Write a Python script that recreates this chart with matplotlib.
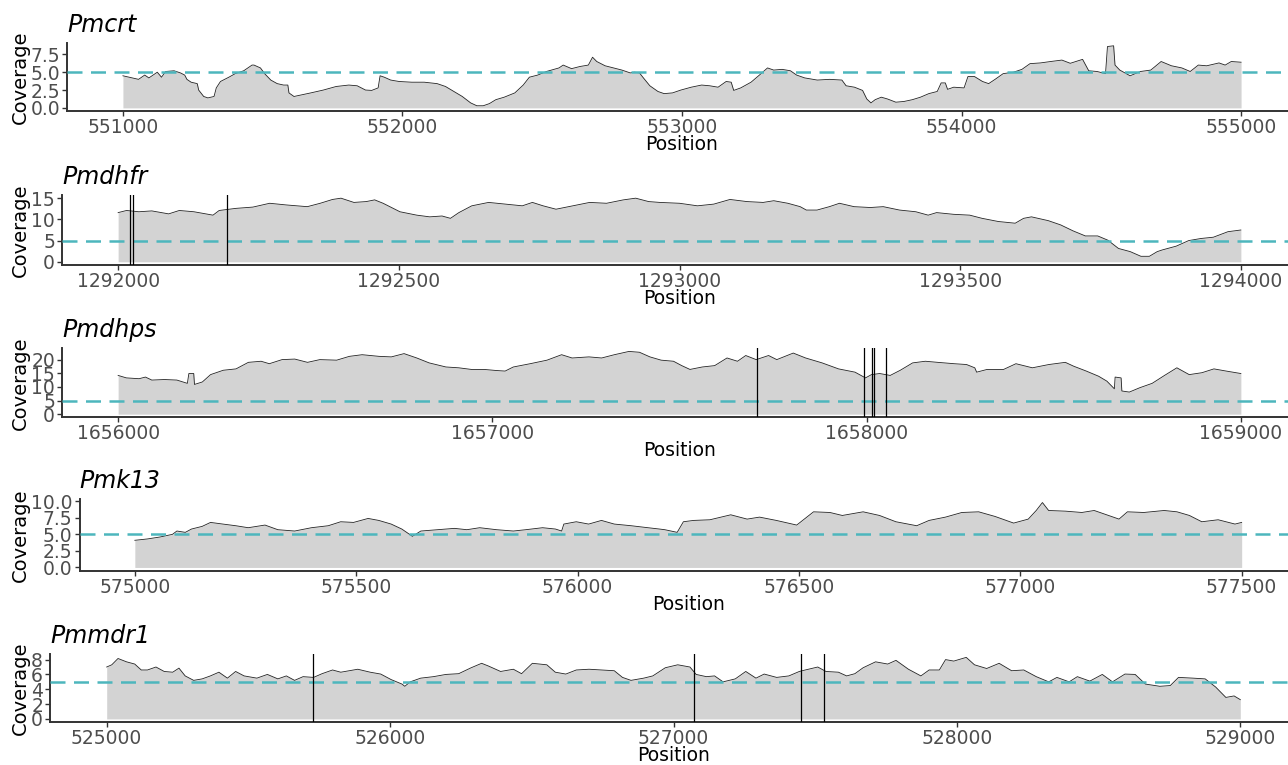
import matplotlib
matplotlib.use("Agg")
import matplotlib.pyplot as plt
import numpy as np

genes = ["Pmcrt", "Pmdhfr", "Pmdhps", "Pmk13", "Pmmdr1"]
min_depth = 5

# --- Pmcrt ---
crt_pos = [551000, 551056, 551078, 551093, 551123, 551138, 551153, 551183, 551206, 551221,
           551229, 551244, 551266, 551271, 551289, 551304, 551326, 551334, 551349, 551379,
           551402, 551432, 551462, 551469, 551492, 551507, 551529, 551552, 551575, 551590,
           551594, 551612, 551642, 551672, 551717, 551763, 551808, 551838, 551868, 551890,
           551913, 551920, 551935, 551958, 551988, 552033, 552078, 552124, 552154, 552184,
           552214, 552244, 552266, 552289, 552311, 552334, 552364, 552402, 552432, 552454,
           552484, 552515, 552560, 552575, 552605, 552635, 552665, 552680, 552695, 552725,
           552755, 552785, 552815, 552830, 552848, 552862, 552885, 552914, 552936, 552966,
           552996, 553033, 553070, 553099, 553129, 553158, 553176, 553185, 553210, 553247,
           553277, 553306, 553328, 553358, 553388, 553410, 553439, 553484, 553528, 553572,
           553587, 553617, 553646, 553661, 553676, 553691, 553713, 553735, 553765, 553794,
           553824, 553853, 553883, 553913, 553927, 553942, 553950, 553972, 554009, 554023,
           554046, 554075, 554097, 554120, 554149, 554186, 554216, 554245, 554282, 554319,
           554359, 554389, 554433, 554455, 554485, 554515, 554522, 554544, 554549, 554566,
           554603, 554640, 554677, 554714, 554751, 554788, 554818, 554847, 554877, 554921,
           554943, 554965, 555000]
crt_cov = [4.5, 4.0, 4.6, 4.2, 5.0, 4.3, 5.1, 5.2, 4.9, 4.6,
           4.0, 3.6, 3.4, 2.5, 1.6, 1.4, 1.6, 2.8, 3.7, 4.3,
           4.8, 5.2, 6.0, 6.0, 5.6, 4.8, 3.9, 3.4, 3.2, 3.2,
           2.1, 1.6, 1.85, 2.1, 2.5, 3.0, 3.2, 3.1, 2.5, 2.45,
           2.8, 4.5, 4.3, 3.9, 3.7, 3.6, 3.6, 3.4, 3.0, 2.3,
           1.6, 0.7, 0.3, 0.3, 0.6, 1.15, 1.5, 2.1, 3.2, 4.3,
           4.6, 5.1, 5.6, 6.0, 5.5, 5.8, 6.0, 7.1, 6.5, 5.9,
           5.6, 5.3, 4.9, 5.0, 4.9, 4.2, 3.1, 2.3, 2.0, 2.1,
           2.5, 2.9, 3.2, 3.1, 2.9, 3.7, 3.6, 2.45, 2.8, 3.6,
           4.6, 5.6, 5.3, 5.4, 5.2, 4.6, 4.2, 3.9, 4.0, 3.9,
           3.1, 2.9, 2.45, 1.25, 0.7, 1.15, 1.5, 1.25, 0.8, 0.9,
           1.15, 1.5, 2.0, 2.3, 3.5, 3.5, 2.6, 2.9, 2.8, 4.4,
           4.4, 3.7, 3.4, 4.0, 4.8, 5.0, 5.4, 6.2, 6.3, 6.5,
           6.7, 6.25, 6.8, 5.2, 5.1, 4.8, 8.6, 8.7, 6.0, 5.3,
           4.5, 5.1, 5.3, 6.5, 5.9, 5.6, 5.1, 6.0, 5.9, 6.3,
           6.0, 6.5, 6.4]
crt_snps = []

# --- Pmdhfr ---
dhfr_pos = [1292000, 1292015, 1292037, 1292060, 1292090, 1292109, 1292135, 1292169, 1292180, 1292210,
            1292240, 1292270, 1292300, 1292337, 1292360, 1292382, 1292397, 1292420, 1292442, 1292457,
            1292472, 1292502, 1292532, 1292555, 1292577, 1292592, 1292607, 1292630, 1292660, 1292690,
            1292720, 1292738, 1292757, 1292780, 1292810, 1292840, 1292870, 1292900, 1292922, 1292945,
            1292965, 1293000, 1293032, 1293061, 1293090, 1293120, 1293149, 1293168, 1293193, 1293215,
            1293226, 1293245, 1293267, 1293285, 1293311, 1293340, 1293363, 1293392, 1293421, 1293443,
            1293458, 1293488, 1293517, 1293539, 1293568, 1293598, 1293613, 1293627, 1293657, 1293679,
            1293701, 1293723, 1293745, 1293763, 1293782, 1293803, 1293822, 1293837, 1293851, 1293860,
            1293885, 1293907, 1293929, 1293951, 1293977, 1294000]
dhfr_cov = [11.6, 12.1, 11.8, 12.0, 11.3, 12.1, 11.8, 11.0, 12.1, 12.6,
            12.9, 13.8, 13.4, 13.0, 13.8, 14.7, 15.0, 14.0, 14.2, 14.6,
            13.8, 11.8, 11.0, 10.6, 10.8, 10.25, 11.6, 13.2, 14.0, 13.6,
            13.2, 14.0, 13.2, 12.4, 13.2, 14.0, 13.8, 14.6, 15.0, 14.2,
            14.0, 13.8, 13.2, 13.6, 14.7, 14.2, 14.0, 14.4, 13.8, 13.0,
            12.2, 12.2, 13.0, 13.8, 13.0, 12.8, 13.0, 12.2, 11.8, 11.0,
            11.6, 11.2, 11.0, 10.25, 9.5, 9.1, 10.25, 10.6, 9.7, 8.7,
            7.3, 6.1, 6.1, 5.1, 3.15, 2.4, 1.3, 1.3, 2.4, 2.8,
            3.7, 5.0, 5.5, 5.8, 7.1, 7.5]
dhfr_snps = [1292021, 1292027, 1292194]

# --- Pmdhps ---
dhps_pos = [1656000, 1656022, 1656056, 1656073, 1656090, 1656124, 1656157, 1656185, 1656189, 1656202,
            1656204, 1656225, 1656247, 1656281, 1656315, 1656348, 1656382, 1656404, 1656438, 1656472,
            1656506, 1656539, 1656584, 1656618, 1656652, 1656697, 1656730, 1656764, 1656798, 1656831,
            1656876, 1656910, 1656944, 1656978, 1657011, 1657034, 1657056, 1657101, 1657146, 1657185,
            1657213, 1657258, 1657292, 1657326, 1657365, 1657393, 1657421, 1657451, 1657484, 1657506,
            1657528, 1657561, 1657594, 1657627, 1657655, 1657677, 1657705, 1657738, 1657760, 1657804,
            1657837, 1657881, 1657925, 1657969, 1657997, 1658013, 1658035, 1658063, 1658090, 1658123,
            1658157, 1658190, 1658234, 1658267, 1658289, 1658294, 1658322, 1658366, 1658399, 1658443,
            1658487, 1658531, 1658553, 1658587, 1658620, 1658642, 1658662, 1658664, 1658680, 1658682,
            1658702, 1658730, 1658763, 1658796, 1658829, 1658862, 1658896, 1658928, 1658961, 1659000]
dhps_cov = [14.2, 13.3, 13.0, 13.6, 12.5, 12.7, 12.5, 11.3, 14.9, 14.9,
            10.9, 11.8, 14.5, 16.1, 16.6, 19.0, 19.4, 18.5, 20.0, 20.2,
            19.0, 20.0, 19.8, 21.2, 21.8, 21.2, 21.0, 22.2, 20.6, 18.8,
            17.3, 17.0, 16.4, 16.4, 16.0, 15.8, 17.3, 18.5, 19.8, 21.8,
            20.6, 21.0, 20.6, 21.8, 23.0, 22.7, 21.0, 19.8, 19.4, 17.8,
            16.4, 17.3, 17.8, 20.6, 19.4, 21.5, 20.0, 21.5, 20.0, 22.4,
            20.6, 18.8, 16.6, 15.4, 13.3, 14.5, 14.9, 14.2, 16.1, 18.8,
            19.4, 19.0, 18.5, 18.2, 17.0, 15.4, 16.4, 16.4, 18.5, 17.0,
            18.2, 19.0, 17.6, 15.8, 13.9, 12.1, 9.3, 13.6, 13.3, 8.5,
            8.1, 9.7, 11.3, 14.2, 17.0, 14.5, 15.2, 16.6, 15.8, 14.9]
dhps_snps = [1657706, 1657994, 1658014, 1658020, 1658051]

# --- Pmk13 ---
k13_pos = [575000, 575028, 575057, 575085, 575095, 575114, 575128, 575152, 575171, 575199,
           575228, 575256, 575294, 575323, 575361, 575399, 575437, 575465, 575494, 575527,
           575551, 575579, 575603, 575627, 575646, 575684, 575722, 575750, 575779, 575817,
           575855, 575883, 575921, 575950, 575964, 575969, 575997, 576025, 576054, 576083,
           576121, 576159, 576185, 576197, 576225, 576239, 576262, 576299, 576346, 576383,
           576411, 576449, 576495, 576533, 576570, 576598, 576645, 576682, 576719, 576766,
           576794, 576831, 576868, 576906, 576943, 576985, 577018, 577036, 577050, 577064,
           577102, 577139, 577167, 577223, 577242, 577279, 577325, 577354, 577382, 577410,
           577447, 577485, 577500]
k13_cov = [4.1, 4.3, 4.6, 5.0, 5.5, 5.3, 5.8, 6.2, 6.8, 6.55,
           6.3, 6.0, 6.4, 5.7, 5.5, 6.0, 6.3, 6.9, 6.8, 7.4,
           7.1, 6.55, 5.8, 4.7, 5.5, 5.7, 5.9, 5.7, 6.0, 5.7,
           5.5, 5.7, 6.0, 5.8, 5.5, 6.55, 6.9, 6.55, 7.1, 6.55,
           6.3, 6.0, 5.8, 5.7, 5.3, 6.9, 7.1, 7.2, 7.95, 7.3,
           7.6, 7.1, 6.4, 8.4, 8.3, 7.85, 8.4, 7.85, 6.9, 6.3,
           7.1, 7.6, 8.3, 8.4, 7.7, 6.7, 7.3, 8.6, 9.8, 8.6,
           8.5, 8.3, 8.6, 7.3, 8.4, 8.3, 8.6, 8.4, 7.85, 6.9,
           7.2, 6.55, 6.8]
k13_snps = []

# --- Pmmdr1 ---
mdr1_pos = [525000, 525018, 525040, 525070, 525099, 525122, 525144, 525174, 525203, 525233,
            525255, 525277, 525307, 525337, 525366, 525396, 525426, 525455, 525485, 525530,
            525567, 525604, 525634, 525663, 525693, 525730, 525760, 525797, 525826, 525886,
            525930, 525967, 526004, 526042, 526052, 526071, 526108, 526153, 526197, 526242,
            526286, 526323, 526346, 526390, 526435, 526464, 526502, 526553, 526583, 526620,
            526657, 526702, 526746, 526791, 526820, 526850, 526895, 526927, 526971, 527015,
            527058, 527080, 527116, 527145, 527175, 527218, 527255, 527291, 527320, 527364,
            527407, 527444, 527465, 527509, 527538, 527582, 527611, 527640, 527669, 527713,
            527756, 527785, 527829, 527873, 527902, 527938, 527960, 527989, 528033, 528062,
            528105, 528149, 528193, 528236, 528280, 528324, 528353, 528396, 528425, 528469,
            528513, 528549, 528593, 528629, 528665, 528716, 528753, 528782, 528833, 528876,
            528913, 528949, 528978, 529000]
mdr1_cov = [7.0, 7.3, 8.15, 7.7, 7.4, 6.6, 6.6, 7.0, 6.4, 6.3,
            6.85, 5.8, 5.2, 5.4, 5.8, 6.3, 5.5, 6.4, 5.8, 5.5,
            6.0, 5.4, 5.8, 5.2, 5.7, 5.6, 6.1, 6.6, 6.3, 6.7,
            6.3, 6.05, 5.3, 4.7, 4.4, 5.0, 5.5, 5.7, 6.0, 6.1,
            6.9, 7.5, 7.15, 6.4, 6.7, 6.1, 7.5, 7.3, 6.3, 6.05,
            6.6, 6.7, 6.6, 6.5, 5.6, 5.2, 5.5, 5.8, 6.9, 7.3,
            7.0, 6.0, 5.7, 5.8, 5.0, 5.4, 6.4, 5.5, 6.05, 5.6,
            5.8, 6.4, 6.6, 7.0, 6.4, 6.3, 5.8, 6.1, 6.9, 7.7,
            7.4, 7.9, 6.7, 5.8, 6.6, 6.6, 8.0, 7.8, 8.3, 7.3,
            6.8, 7.5, 6.5, 6.6, 5.7, 5.0, 5.6, 5.0, 5.7, 5.1,
            6.0, 5.0, 6.05, 6.0, 4.7, 4.4, 4.5, 5.6, 5.5, 5.4,
            4.3, 2.9, 3.1, 2.6]
mdr1_snps = [525727, 527074, 527451, 527531]

x_steps = [1000, 500, 1000, 500, 1000]
y_ticks = [[0, 2.5, 5, 7.5], [0, 5, 10, 15], [0, 5, 10, 15, 20],
           [0, 2.5, 5, 7.5, 10], [0, 2, 4, 6, 8]]

positions = [crt_pos, dhfr_pos, dhps_pos, k13_pos, mdr1_pos]
coverages = [crt_cov, dhfr_cov, dhps_cov, k13_cov, mdr1_cov]
snps = [crt_snps, dhfr_snps, dhps_snps, k13_snps, mdr1_snps]

# panel boxes in pixels: (left, top, bottom); all panels share the right edge
W, H = 1288, 765
RIGHT = 1297
boxes = [(67, 42.7, 111), (62, 195, 265), (62, 348.3, 417.3),
         (79.5, 499.3, 570.7), (50, 654.3, 722)]

plt.rcParams["font.family"] = ["DejaVu Sans"]
fig = plt.figure(figsize=(W / 100, H / 100), dpi=100)

for i, gene in enumerate(genes):
    left, top, bottom = boxes[i]
    ax = fig.add_axes([left / W, 1 - bottom / H, (RIGHT - left) / W, (bottom - top) / H])
    pos = np.array(positions[i])
    cov = np.array(coverages[i])

    ax.fill_between(pos, 0, cov, color="#D3D3D3", lw=0, zorder=1)
    ax.plot(pos, cov, color="#222222", lw=0.6, zorder=2)
    ax.axhline(min_depth, color="#4DB6BD", lw=1.8, ls=(0, (6, 3.4)), zorder=3)
    for s in snps[i]:
        ax.axvline(s, color="black", lw=0.9, zorder=4)

    # ggplot-style 5% expansion
    span = pos[-1] - pos[0]
    ax.set_xlim(pos[0] - 0.05 * span, pos[-1] + 0.05 * span)
    ymax = cov.max()
    ax.set_ylim(-0.05 * ymax, 1.05 * ymax)

    ax.set_xticks(np.arange(pos[0], pos[-1] + 1, x_steps[i]))
    ax.set_xticklabels([str(int(v)) for v in ax.get_xticks()])
    yt = y_ticks[i]
    ax.set_yticks(yt)
    if any(v != int(v) for v in yt):
        ax.set_yticklabels([f"{v:.1f}" for v in yt])
    else:
        ax.set_yticklabels([str(int(v)) for v in yt])

    for side in ["top", "right"]:
        ax.spines[side].set_visible(False)
    for side in ["left", "bottom"]:
        ax.spines[side].set_color("#333333")
        ax.spines[side].set_linewidth(1.4)
    ax.tick_params(length=3.5, width=1, color="#333333", labelcolor="#4D4D4D",
                   labelsize=13.5, pad=1.5)

    ax.set_title(gene, loc="left", fontstyle="italic", fontsize=17, pad=8)
    ax.set_xlabel("Position", fontsize=13.5, labelpad=-1.5)
    fig.text(20 / W, 1 - (top + bottom) / 2 / H, "Coverage", rotation=90,
             ha="center", va="center", fontsize=14)

fig.savefig("out.png", dpi=100)
